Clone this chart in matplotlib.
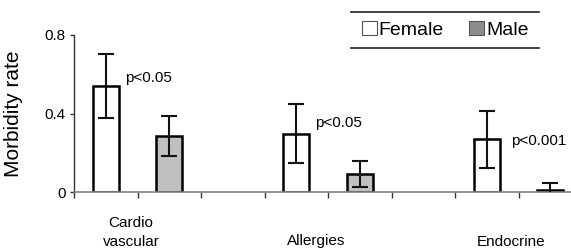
import matplotlib
matplotlib.use('Agg')
import matplotlib.pyplot as plt
from matplotlib.lines import Line2D
from matplotlib.patches import Patch

plt.rcParams['font.family'] = ['Liberation Sans', 'DejaVu Sans']

# values
categories = ['Cardio\nvascular', '\nAllergies', '\nEndocrine']
female = [0.54, 0.296, 0.268]
female_err = [0.165, 0.15, 0.145]
male = [0.285, 0.092, 0.012]
male_err = [0.10, 0.065, 0.035]
pvalues = ['p<0.05', 'p<0.05', 'p<0.001']
yticks = [0, 0.4, 0.8]
yticklabels = ['0', '0.4', '0.8']

fig = plt.figure(figsize=(5.71, 2.5), dpi=100)
ax = fig.add_axes([0.1296, 0.232, 0.8897, 0.628])

# each category takes three slots: female, male, gap
f_pos = [3 * i for i in range(len(categories))]
m_pos = [3 * i + 1 for i in range(len(categories))]
width = 0.41

ax.bar(f_pos, female, width, color='white', edgecolor='black', linewidth=1.8, zorder=2)
ax.bar(m_pos, male, width, color='#c0c0c0', edgecolor='black', linewidth=1.8, zorder=2)
ax.errorbar(f_pos, female, yerr=female_err, fmt='none', ecolor='#111111',
            elinewidth=1.5, capsize=6, capthick=1.5, zorder=3)
ax.errorbar(m_pos, male, yerr=male_err, fmt='none', ecolor='#111111',
            elinewidth=1.5, capsize=6, capthick=1.5, zorder=3)

# p-value annotations next to female bars
p_offsets = [(0.30, 0.58), (3.29, 0.35), (6.39, 0.26)]
for (x, y), p in zip(p_offsets, pvalues):
    ax.text(x, y, p, ha='left', va='center', fontsize=11)

ax.set_xlim(-0.5, 7.5)
ax.set_ylim(0, 0.8)
ax.set_yticks(yticks)
ax.set_yticklabels(yticklabels, fontsize=11)
ax.set_xticks([i - 0.5 for i in range(8)])
ax.set_xticklabels([])
ax.tick_params(axis='x', direction='out', length=4, width=1, color='#333333')
ax.tick_params(axis='y', direction='out', length=3, width=1, color='#333333', pad=3)

for s in ['top', 'right']:
    ax.spines[s].set_visible(False)
ax.spines['left'].set_color('#333333')
ax.spines['bottom'].set_color('#808080')
ax.spines['left'].set_linewidth(1)
ax.spines['bottom'].set_linewidth(1.2)
ax.set_clip_on(False)

# category labels under the axis
lab_x = [0.40, 3.31, 6.39]
for x, c in zip(lab_x, categories):
    ax.text(x, -0.15, c, transform=ax.get_xaxis_transform(), ha='center', va='top',
            fontsize=11, linespacing=1.45)

ax.set_ylabel('Morbidity rate', fontsize=15)
ax.yaxis.set_label_coords(-0.1, 0.5)

# legend with only top and bottom rule
handles = [Patch(facecolor='white', edgecolor='#555555', linewidth=0.8, label='Female'),
           Patch(facecolor='#8c8c8c', edgecolor='#555555', linewidth=0.8, label='Male')]
fig.legend(handles=handles, loc='center', bbox_to_anchor=(0.78, 0.88), ncol=2,
           frameon=False, fontsize=14, handlelength=0.75, handleheight=0.75,
           handletextpad=0.1, columnspacing=1.3, borderpad=0)
for yy in [0.952, 0.808]:
    fig.add_artist(Line2D([0.615, 0.944], [yy, yy], transform=fig.transFigure,
                          color='#222222', linewidth=1.2))

fig.savefig('out.png', dpi=100)
